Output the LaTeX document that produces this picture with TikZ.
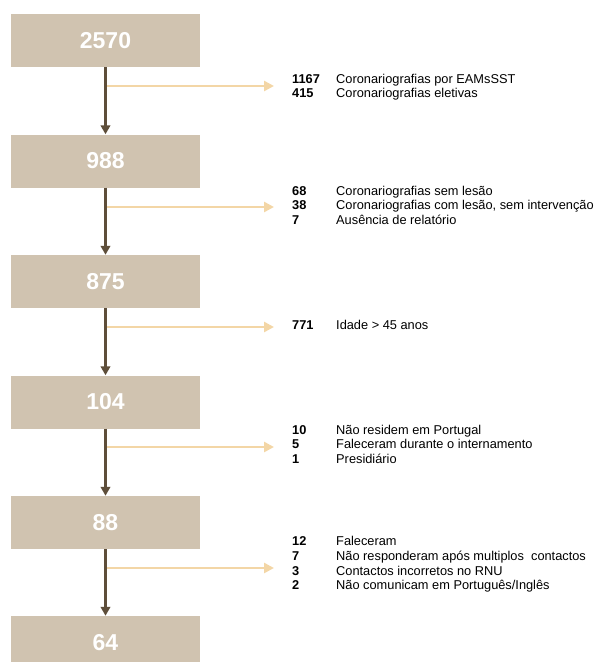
\documentclass[tikz,border=0pt]{standalone}
\usepackage{fontspec}
\setmainfont{Liberation Sans}
\usetikzlibrary{arrows.meta}
\definecolor{boxc}{HTML}{D0C3B0}
\definecolor{darkc}{HTML}{5E4E3A}
\definecolor{lightc}{HTML}{F3D6A6}
\begin{document}
\begin{tikzpicture}[x=1pt,y=-1pt,
  box/.style={fill=boxc, minimum width=189pt, minimum height=53pt, inner sep=0pt, text=white, font=\fontsize{23}{23}\selectfont\bfseries},
  down/.style={draw=darkc, line width=2.6pt, -{Triangle[length=9pt,width=9.5pt]}},
  side/.style={draw=lightc, line width=2.6pt, -{Triangle[length=10pt,width=10pt]}},
  lst/.style={anchor=west, inner sep=0pt, font=\fontsize{12.8}{14.7}\selectfont}]
\useasboundingbox (0,0) rectangle (605,662);
\clip (0,0) rectangle (605,662);
\newcommand{\tabl}[1]{\renewcommand{\arraystretch}{1.0}\begin{tabular}{@{}p{44pt}@{}l@{}}#1\end{tabular}}
\node[box] (b1) at (105.5,40.5) {2570};
\node[box] (b2) at (105.5,161) {988};
\node[box] (b3) at (105.5,281.5) {875};
\node[box] (b4) at (105.5,402) {104};
\node[box] (b5) at (105.5,522.5) {88};
\node[box] (b6) at (105.5,642.5) {64};
\draw[down] (b1) -- (b2);
\draw[down] (b2) -- (b3);
\draw[down] (b3) -- (b4);
\draw[down] (b4) -- (b5);
\draw[down] (b5) -- (b6);
\coordinate (s1) at (107,86);  \coordinate (e1) at (274,86);
\coordinate (s2) at (107,207); \coordinate (e2) at (274,207);
\coordinate (s3) at (107,327); \coordinate (e3) at (274,327);
\coordinate (s4) at (107,447); \coordinate (e4) at (274,447);
\coordinate (s5) at (107,568); \coordinate (e5) at (274,568);
\draw[side] (s1) -- (e1);
\draw[side] (s2) -- (e2);
\draw[side] (s3) -- (e3);
\draw[side] (s4) -- (e4);
\draw[side] (s5) -- (e5);
\node[lst] (t1) at (292,87.5) {\tabl{\textbf{1167} & Coronariografias por EAMsSST\\ \textbf{415} & Coronariografias eletivas}};
\node[lst] (t2) at (292,207) {\tabl{\textbf{68} & Coronariografias sem lesão\\ \textbf{38} & Coronariografias com lesão, sem intervenção\\ \textbf{7} & Ausência de relatório}};
\node[lst] (t3) at (292,327) {\tabl{\textbf{771} & Idade > 45 anos}};
\node[lst] (t4) at (292,446) {\tabl{\textbf{10} & Não residem em Portugal\\ \textbf{5} & Faleceram durante o internamento\\ \textbf{1} & Presidiário}};
\node[lst] (t5) at (292,565) {\tabl{\textbf{12} & Faleceram\\ \textbf{7} & Não responderam após multiplos\ \ contactos\\ \textbf{3} & Contactos incorretos no RNU\\ \textbf{2} & Não comunicam\ em Português/Inglês}};
\end{tikzpicture}
\end{document}
